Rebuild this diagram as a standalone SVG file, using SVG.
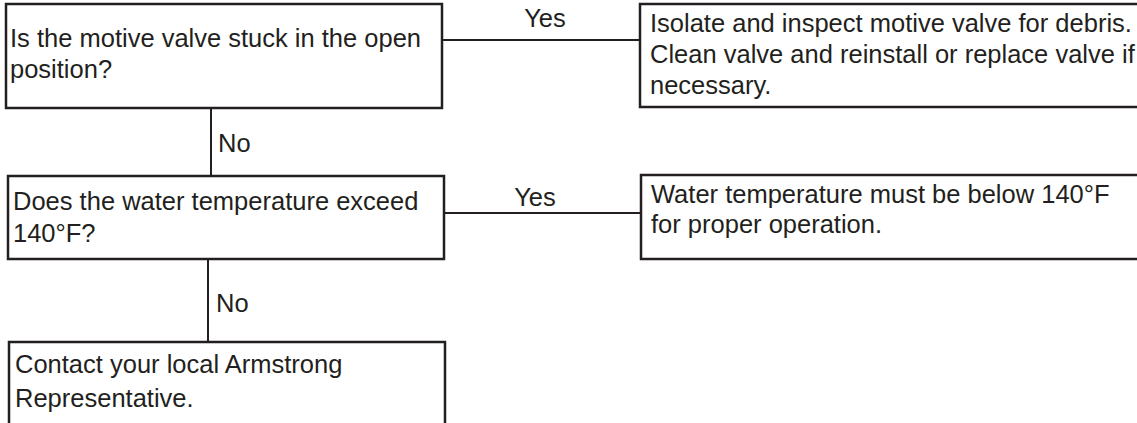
<svg xmlns="http://www.w3.org/2000/svg" width="1137" height="423" viewBox="0 0 1137 423">
<style>
  .box { fill: #ffffff; stroke: #231f20; stroke-width: 2.5; }
  .conn { stroke: #231f20; stroke-width: 2; fill: none; }
  text { font-family: "Liberation Sans", Arial, sans-serif; font-size: 25.5px; fill: #231f20; }
  .lbl { text-anchor: middle; }
</style>
<rect width="1137" height="423" fill="#ffffff"/>
<g id="connectors">
  <line class="conn" x1="442" y1="40" x2="640" y2="40"/>
  <text class="lbl" x="545" y="27">Yes</text>
  <line class="conn" x1="211" y1="108" x2="211" y2="176"/>
  <text x="218" y="152">No</text>
  <line class="conn" x1="444" y1="213" x2="641" y2="213"/>
  <text class="lbl" x="535" y="206">Yes</text>
  <line class="conn" x1="208" y1="259" x2="208" y2="342"/>
  <text x="216" y="312">No</text>
</g>
<g id="q1">
  <rect class="box" x="6" y="4" width="436" height="104"/>
  <text x="10" y="47">Is the motive valve stuck in the open</text>
  <text x="10" y="78">position?</text>
</g>
<g id="a1">
  <rect class="box" x="640" y="4" width="510" height="103"/>
  <text x="650" y="32">Isolate and inspect motive valve for debris.</text>
  <text x="650" y="63">Clean valve and reinstall or replace valve if</text>
  <text x="650" y="94">necessary.</text>
</g>
<g id="q2">
  <rect class="box" x="8" y="176" width="436" height="83"/>
  <text x="13" y="210">Does the water temperature exceed</text>
  <text x="13" y="242">140°F?</text>
</g>
<g id="a2">
  <rect class="box" x="641" y="175" width="510" height="84"/>
  <text x="651" y="203">Water temperature must be below 140°F</text>
  <text x="651" y="233">for proper operation.</text>
</g>
<g id="end">
  <rect class="box" x="9" y="342" width="436" height="100"/>
  <text x="15" y="373">Contact your local Armstrong</text>
  <text x="15" y="407">Representative.</text>
</g>
</svg>
